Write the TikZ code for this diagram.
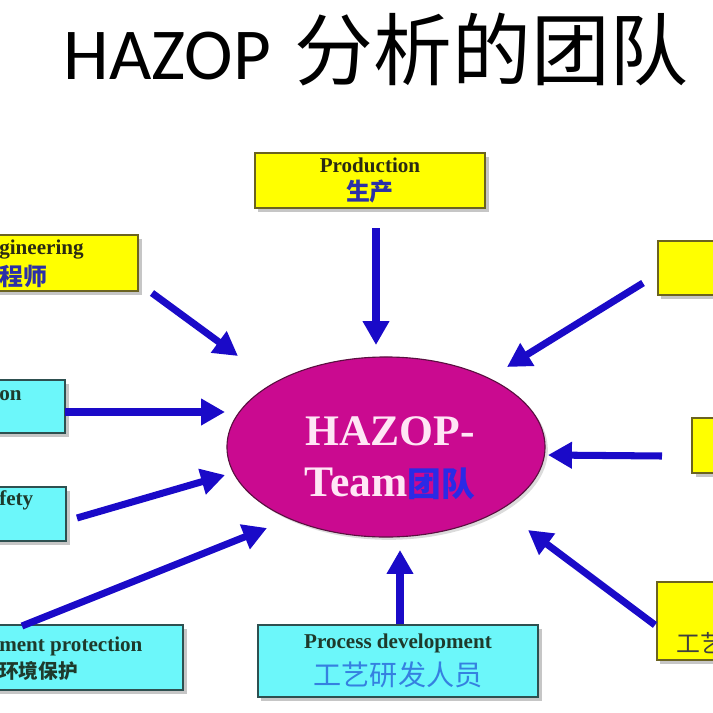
\documentclass[tikz,border=0pt]{standalone}
\usepackage{fontspec}
\setmainfont{Liberation Serif}
\newfontfamily\cjk{Noto Sans CJK SC}
\newfontfamily\titlefont{Carlito}
\usetikzlibrary{arrows.meta,shapes.geometric,shadows}

\definecolor{boxyellow}{HTML}{FFFF00}
\definecolor{boxolive}{HTML}{6B6320}
\definecolor{boxcyan}{HTML}{6CF7FA}
\definecolor{boxslate}{HTML}{2E5050}
\definecolor{teamfill}{HTML}{CA0A90}
\definecolor{teamline}{HTML}{5A1040}
\definecolor{teamtext}{HTML}{FFE6F5}
\definecolor{teamcjk}{HTML}{2A2AE6}
\definecolor{flowblue}{HTML}{1A0AC8}
\definecolor{inkolive}{HTML}{2A2A14}
\definecolor{inkgreen}{HTML}{1E3A2C}
\definecolor{cjkblue}{HTML}{2B30A8}
\definecolor{devblue}{HTML}{3580E0}

\begin{document}
\begin{tikzpicture}[x=0.025cm, y=-0.025cm,
                    boxbase/.style={rectangle, inner sep=0pt, line width=1.2pt,
                      drop shadow={shadow xshift=2.5pt, shadow yshift=-2.5pt, fill=black!50, opacity=0.45}},
                    yellowbox/.style={boxbase, draw=boxolive, fill=boxyellow},
                    cyanbox/.style={boxbase, draw=boxslate, fill=boxcyan},
                    latinlbl/.style={inner sep=0pt, font=\fontsize{15}{18}\selectfont\bfseries},
                    cjklbl/.style={inner sep=0pt, font=\cjk\bfseries\fontsize{17}{19}\selectfont},
                    flowarrow/.style={draw=flowblue, line width=5pt, -{Triangle[length=17pt,width=18pt]}}]
                    \useasboundingbox (0,0) rectangle (713,713);
                    \clip (0,0) rectangle (713,713);
                    % title
                    \node[inner sep=0pt] (title) at (376,50)
                      {{\titlefont\fontsize{52}{60}\selectfont HAZOP}\hspace{17pt}{\cjk\fontsize{56}{60}\selectfont 分析的团队}};
                    % boxes
                    \node[yellowbox, minimum width=5.75cm, minimum height=1.375cm, align=center] (prod) at (370,180.5)
                      {{\fontsize{15}{18}\selectfont\bfseries\color{inkolive}Production}\\[4pt]
                       {\cjk\bfseries\color{cjkblue}\fontsize{17}{19}\selectfont 生产}};
                    \node[yellowbox, minimum width=5.45cm, minimum height=1.4cm] (eng) at (29,263) {};
                    \node[yellowbox, minimum width=3.55cm, minimum height=1.35cm] (rt) at (729,268) {};
                    \node[cyanbox, minimum width=3.625cm, minimum height=1.325cm] (on) at (-7.5,406.5) {};
                    \node[yellowbox, minimum width=2.7cm, minimum height=1.375cm] (rm) at (746,445.5) {};
                    \node[cyanbox, minimum width=3.65cm, minimum height=1.35cm] (fety) at (-7,514) {};
                    \node[cyanbox, minimum width=6.575cm, minimum height=1.625cm] (env) at (51.5,657.5) {};
                    \node[cyanbox, minimum width=7cm, minimum height=1.8cm, align=center] (proc) at (398,661)
                      {{\fontsize{15}{18}\selectfont\bfseries\color{inkgreen}Process development}\\[5pt]
                       {\cjk\color{devblue}\fontsize{20}{24}\selectfont 工艺研发人员}};
                    \node[yellowbox, minimum width=3.575cm, minimum height=1.95cm] (rb) at (728.5,621) {};
                    % labels of the cut boxes
                    \node[latinlbl, text=inkolive, anchor=base west] (englbl) at (-1,254) {gineering};
                    \node[cjklbl, text=cjkblue, anchor=west] (engcjk) at (-1,276) {程师};
                    \node[latinlbl, text=inkgreen, anchor=base west] (onlbl) at (-1,400) {on};
                    \node[latinlbl, text=inkgreen, anchor=base west] (fetylbl) at (-1,505) {fety};
                    \node[latinlbl, text=inkgreen, anchor=base west] (envlbl) at (-1,651) {ment protection};
                    \node[inner sep=0pt, text=inkgreen, anchor=west, font=\cjk\bfseries\fontsize{14}{16}\selectfont] (envcjk) at (-1,671) {环境保护};
                    \node[cjklbl, text=black!75, anchor=west, font=\cjk\fontsize{17}{19}\selectfont] (rbcjk) at (676,643) {工艺};
                    % team
                    \node[ellipse, draw=teamline, fill=teamfill, line width=0.8pt, inner sep=0pt,
                          minimum width=7.95cm, minimum height=4.5cm,
                          drop shadow={shadow xshift=2pt, shadow yshift=-2pt, fill=black!40, opacity=0.35}] (team) at (386,447) {};
                    \node[align=center, inner sep=0pt, text=teamtext, font=\fontsize{31}{36}\selectfont\bfseries] (teamlbl) at (390,458)
                      {HAZOP-\\Team{\cjk\bfseries\color{teamcjk}\fontsize{24}{36}\selectfont 团队}};
                    % arrows
                    \coordinate (prodtail) at (376,228);  \coordinate (prodtip) at (376,345);
                    \coordinate (engtail) at (152,293);   \coordinate (engtip) at (238,356);
                    \coordinate (ontail) at (65,412);     \coordinate (ontip) at (225,412);
                    \coordinate (fetytail) at (77,518);   \coordinate (fetytip) at (225,475);
                    \coordinate (envtail) at (22,626);    \coordinate (envtip) at (267,528);
                    \coordinate (proctail) at (400,624);  \coordinate (proctip) at (400,550);
                    \coordinate (rbtail) at (655,625);    \coordinate (rbtip) at (528,530);
                    \coordinate (rmtail) at (662,456);    \coordinate (rmtip) at (548,455);
                    \coordinate (rttail) at (643,283);    \coordinate (rttip) at (507,367);
                    \draw[flowarrow] (prodtail) -- (prodtip);
                    \draw[flowarrow] (engtail) -- (engtip);
                    \draw[flowarrow] (ontail) -- (ontip);
                    \draw[flowarrow] (fetytail) -- (fetytip);
                    \draw[flowarrow] (envtail) -- (envtip);
                    \draw[flowarrow] (proctail) -- (proctip);
                    \draw[flowarrow] (rbtail) -- (rbtip);
                    \draw[flowarrow] (rmtail) -- (rmtip);
                    \draw[flowarrow] (rttail) -- (rttip);
                \end{tikzpicture}
\end{document}
